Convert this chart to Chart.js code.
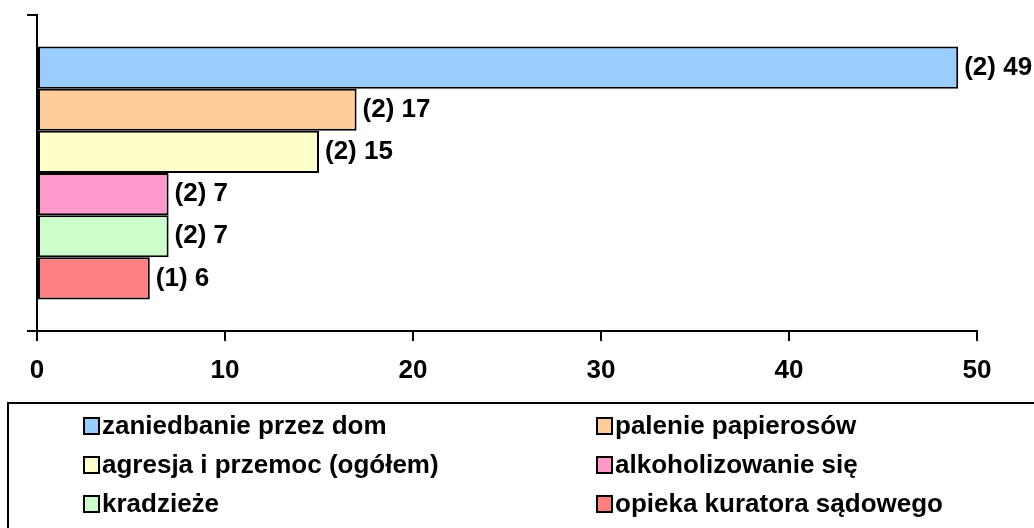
<!DOCTYPE html>
<html>
<head>
<meta charset="utf-8">
<script src="https://cdn.jsdelivr.net/npm/chart.js@4"></script>
<style>
  html, body { margin: 0; padding: 0; background: #fff; }
  #wrap { width: 1034px; height: 528px; position: relative; }
</style>
</head>
<body>
<div id="wrap"><canvas id="c" width="1034" height="528"></canvas></div>
<script>
const categories = [""];
const seriesNames = [
  "zaniedbanie przez dom",
  "palenie papierosów",
  "agresja i przemoc (ogółem)",
  "alkoholizowanie się",
  "kradzieże",
  "opieka kuratora sądowego"
];
const seriesValues = [49, 17, 15, 7, 7, 6];
const seriesCounts = ["(2)", "(2)", "(2)", "(2)", "(2)", "(1)"];
const seriesColors = ["#99CCFF", "#FFCC99", "#FFFFCC", "#FF99CC", "#CCFFCC", "#FF8080"];
const xTicks = [0, 10, 20, 30, 40, 50];

const FONT = "'Liberation Sans', Arial, sans-serif";
const FS = 26;

const datasets = seriesNames.map((name, i) => ({
  label: name,
  data: [seriesValues[i]],
  backgroundColor: seriesColors[i],
  borderColor: "#000",
  borderWidth: 2,
  borderSkipped: false,
  categoryPercentage: 0.8,
  barPercentage: 1.0
}));

const valueLabels = {
  id: "valueLabels",
  afterDatasetsDraw(chart) {
    const ctx = chart.ctx;
    ctx.save();
    ctx.font = "bold " + FS + "px " + FONT;
    ctx.fillStyle = "#000";
    ctx.textAlign = "left";
    ctx.textBaseline = "middle";
    chart.data.datasets.forEach((ds, i) => {
      const el = chart.getDatasetMeta(i).data[0];
      if (!el) return;
      ctx.fillText(seriesCounts[i] + " " + ds.data[0], el.x + 6, el.y);
    });
    ctx.restore();
  }
};

const boxLegend = {
  id: "boxLegend",
  afterDraw(chart) {
    const ctx = chart.ctx;
    ctx.save();
    ctx.strokeStyle = "#000";
    ctx.lineWidth = 2;
    ctx.strokeRect(8, 403, 1040, 140);
    const colX = [84, 597];
    const rowY = [426, 465, 504];
    ctx.font = "bold " + FS + "px " + FONT;
    ctx.textBaseline = "middle";
    ctx.textAlign = "left";
    chart.data.datasets.forEach((ds, i) => {
      const x = colX[i % 2];
      const y = rowY[Math.floor(i / 2)];
      ctx.fillStyle = ds.backgroundColor;
      ctx.fillRect(x, y - 8, 15, 16);
      ctx.lineWidth = 2;
      ctx.strokeStyle = "#000";
      ctx.strokeRect(x, y - 8, 15, 16);
      ctx.fillStyle = "#000";
      ctx.fillText(ds.label, x + 18, y + 1);
    });
    ctx.restore();
  }
};

new Chart(document.getElementById("c"), {
  type: "bar",
  data: { labels: categories, datasets },
  options: {
    indexAxis: "y",
    responsive: false,
    animation: false,
    layout: { padding: { left: 27, right: 57, top: 15, bottom: 137 } },
    plugins: { legend: { display: false }, tooltip: { enabled: false } },
    scales: {
      x: {
        min: 0, max: 50,
        afterBuildTicks(scale) { scale.ticks = xTicks.map(v => ({ value: v })); },
        afterFit(scale) { scale.height = 60; },
        grid: { drawOnChartArea: false, color: "#000", lineWidth: 2, tickLength: 10 },
        border: { color: "#000", width: 2 },
        ticks: { color: "#000", padding: 14, font: { family: FONT, size: FS, weight: "bold" } }
      },
      y: {
        afterFit(scale) { scale.width = 10; },
        grid: { drawOnChartArea: false, color: "#000", lineWidth: 2, tickLength: 10 },
        border: { color: "#000", width: 2 },
        ticks: { display: false }
      }
    }
  },
  plugins: [valueLabels, boxLegend]
});
</script>
</body>
</html>
